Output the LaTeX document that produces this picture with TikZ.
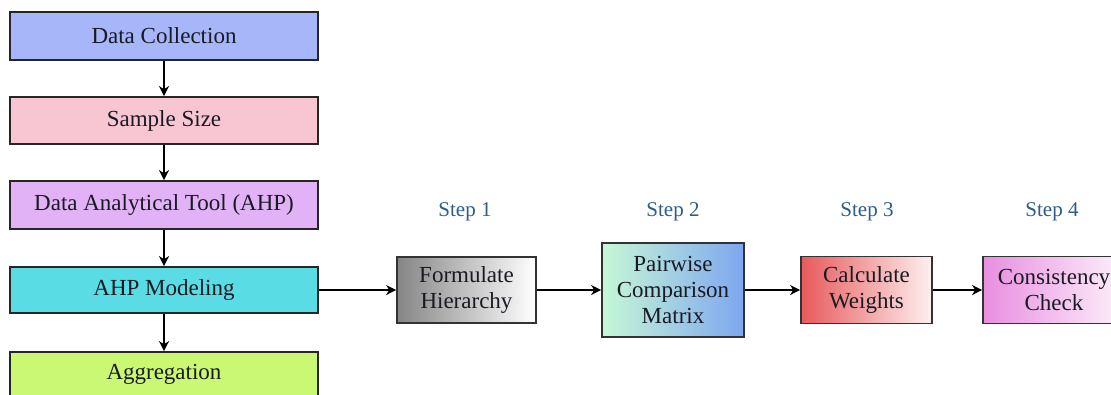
\documentclass[tikz,border=0pt]{standalone}
\usepackage{fontspec}
\setmainfont{Liberation Serif}
\usetikzlibrary{arrows.meta}
\definecolor{txt}{HTML}{1A1A24}
\definecolor{steptxt}{HTML}{2B5C8C}
\definecolor{cDC}{HTML}{A6B6F8}
\definecolor{cSS}{HTML}{F8C6D2}
\definecolor{cDA}{HTML}{E2B2F6}
\definecolor{cAM}{HTML}{5ADCE4}
\definecolor{cAG}{HTML}{CAF872}
\definecolor{gFHl}{HTML}{858585}
\definecolor{gPCl}{HTML}{C6F8D6}
\definecolor{gPCr}{HTML}{7EA6F0}
\definecolor{gCWl}{HTML}{E85A5C}
\definecolor{gCWr}{HTML}{FDF0F0}
\definecolor{gCCl}{HTML}{E88EE0}
\definecolor{gCCr}{HTML}{FDF2FB}
\tikzset{
  lbox/.style={draw=black!85, line width=1.7pt, minimum width=308pt, text=txt,
    font=\fontsize{23}{26}\selectfont, inner sep=0pt},
  rbox/.style={draw=black!80, line width=1.7pt, text=txt, align=center,
    font=\fontsize{23}{26}\selectfont, inner sep=0pt, shading=axis, shading angle=90},
  steplabel/.style={text=steptxt, font=\fontsize{21}{24}\selectfont, inner sep=0pt},
  conn/.style={line width=2.6pt, -{Stealth[length=10pt,width=10pt,inset=3pt]}}
}
\begin{document}
\begin{tikzpicture}[x=1pt,y=-1pt]
\useasboundingbox (0,0) rectangle (1111,394);
\clip (0,0) rectangle (1111,394);
\node[lbox, fill=cDC, minimum height=48pt] (dc) at (164,36) {Data Collection};
\node[lbox, fill=cSS, minimum height=47pt] (ss) at (164,120.5) {Sample Size};
\node[lbox, fill=cDA, minimum height=48pt] (da) at (164,205) {Data Analytical Tool (AHP)};
\node[lbox, fill=cAM, minimum height=46pt] (am) at (164,290) {AHP Modeling};
\node[lbox, fill=cAG, minimum height=44pt] (ag) at (164,374) {Aggregation};

\node[rbox, left color=gFHl, right color=white, minimum width=139pt, minimum height=66pt] (fh) at (466.5,290) {Formulate\\Hierarchy};
\node[rbox, left color=gPCl, right color=gPCr, minimum width=142pt, minimum height=94pt] (pc) at (673,290) {Pairwise\\Comparison\\Matrix};
\node[rbox, left color=gCWl, right color=gCWr, minimum width=131pt, minimum height=67pt] (cw) at (866.5,290) {Calculate\\Weights};
\node[rbox, left color=gCCl, right color=gCCr, minimum width=142pt, minimum height=67pt] (cc) at (1054,290) {Consistency\\Check};

\node[steplabel] (s1) at (465,212) {Step 1};
\node[steplabel] (s2) at (673,212) {Step 2};
\node[steplabel] (s3) at (867,212) {Step 3};
\node[steplabel] (s4) at (1052,212) {Step 4};

\draw[conn] (dc) -- (ss);
\draw[conn] (ss) -- (da);
\draw[conn] (da) -- (am);
\draw[conn] (am) -- (ag);
\draw[conn] (am) -- (fh);
\draw[conn] (fh) -- (pc);
\draw[conn] (pc) -- (cw);
\draw[conn] (cw) -- (cc);
\end{tikzpicture}
\end{document}
